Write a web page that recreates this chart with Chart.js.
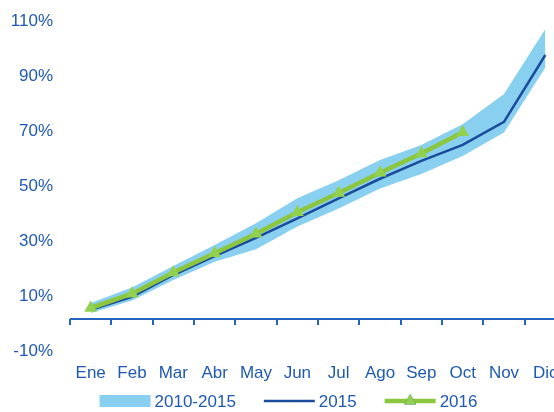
<!DOCTYPE html>
<html>
<head>
<meta charset="utf-8">
<script src="https://cdn.jsdelivr.net/npm/chart.js@4/dist/chart.umd.min.js"></script>
<style>
  html, body { margin: 0; padding: 0; background: #fff; overflow: hidden; }
  #wrap { width: 585px; height: 412px; }
</style>
</head>
<body>
<div id="wrap"><canvas id="c" width="585" height="412"></canvas></div>
<script>
// Cumulative share of the yearly total reached by each month (%)
const months = ['Ene', 'Feb', 'Mar', 'Abr', 'May', 'Jun', 'Jul', 'Ago', 'Sep', 'Oct', 'Nov', 'Dic'];
const rangeLow  = [2.2, 6.7, 14.2, 20.8, 25.4, 33.6, 40.2, 47.5, 52.7, 59.3, 67.8, 91.5];
const rangeHigh = [5.8, 11.5, 19.3, 26.9, 34.8, 43.9, 50.5, 57.8, 63.3, 70.8, 81.8, 105.5];
const values2015 = [3.3, 8.1, 16.0, 22.9, 29.5, 36.6, 43.9, 51.0, 57.5, 63.3, 71.7, 96.0];
const values2016 = [4.0, 9.2, 16.9, 23.9, 31.0, 38.8, 45.8, 53.2, 60.2, 67.9];
const seriesNames = ['2010-2015', '2015', '2016'];
const yMin = -10, yMax = 110, yStep = 20;

const TEXT = '#1F59B3';
const AXIS = '#2563BE';
const BAND = '#89D0F0';
const DARK = '#1B4C9C';
const GREEN_LINE = '#8CC63F';
const GREEN_MARK = '#92D050';
const FONT = { family: '"Liberation Sans", Arial, sans-serif', size: 17 };

// Category axis line crossing at 0%, with tick marks on the category boundaries
const zeroAxis = {
  id: 'zeroAxis',
  afterDatasetsDraw(chart) {
    const { ctx, scales: { x, y } } = chart;
    const y0 = y.getPixelForValue(0);
    const n = chart.data.labels.length;
    const step = n > 1 ? x.getPixelForValue(1) - x.getPixelForValue(0) : x.width;
    ctx.save();
    ctx.strokeStyle = AXIS;
    ctx.lineWidth = 2;
    ctx.beginPath();
    ctx.moveTo(x.left, y0);
    ctx.lineTo(x.right, y0);
    for (let i = 0; i <= n; i++) {
      const px = Math.round(x.getPixelForValue(0) - step / 2 + i * step);
      ctx.moveTo(px, y0);
      ctx.lineTo(px, y0 + 6);
    }
    ctx.stroke();
    ctx.restore();
  }
};

// Legend drawn under the plot: swatch, line, and line with triangle
const bottomLegend = {
  id: 'bottomLegend',
  afterDraw(chart) {
    const ctx = chart.ctx;
    ctx.save();
    ctx.font = FONT.size + 'px ' + FONT.family;
    ctx.textBaseline = 'middle';
    ctx.textAlign = 'left';
    const sw = 51, gapText = 4, gapItem = 28, cy = 401;
    const widths = seriesNames.map(n => sw + gapText + ctx.measureText(n).width);
    const total = widths.reduce((a, b) => a + b, 0) + gapItem * (widths.length - 1);
    let x = chart.width / 2 - 4 - total / 2;
    seriesNames.forEach((name, i) => {
      if (i === 0) {
        ctx.fillStyle = BAND;
        ctx.fillRect(x, cy - 6, sw, 12);
      } else if (i === 1) {
        ctx.strokeStyle = DARK;
        ctx.lineWidth = 2.5;
        ctx.beginPath(); ctx.moveTo(x, cy); ctx.lineTo(x + sw, cy); ctx.stroke();
      } else {
        ctx.strokeStyle = GREEN_LINE;
        ctx.lineWidth = 4.5;
        ctx.beginPath(); ctx.moveTo(x, cy); ctx.lineTo(x + sw, cy); ctx.stroke();
        Chart.helpers.drawPoint(ctx, { pointStyle: 'triangle', radius: 7, borderWidth: 0 }, x + sw / 2, cy);
        ctx.fillStyle = GREEN_MARK;
        ctx.fill();
      }
      ctx.fillStyle = TEXT;
      ctx.fillText(name, x + sw + gapText, cy + 1);
      x += widths[i] + gapItem;
    });
    ctx.restore();
  }
};

new Chart(document.getElementById('c'), {
  type: 'line',
  data: {
    labels: months,
    datasets: [
      { label: seriesNames[0] + ' min', data: rangeLow, borderWidth: 0, pointRadius: 0,
        fill: false, order: 4, tension: 0 },
      { label: seriesNames[0], data: rangeHigh, borderWidth: 0, pointRadius: 0,
        backgroundColor: BAND, fill: '-1', order: 3, tension: 0 },
      { label: seriesNames[1], data: values2015, borderColor: DARK, borderWidth: 2.5,
        pointRadius: 0, fill: false, order: 2, tension: 0 },
      { label: seriesNames[2], data: values2016, borderColor: GREEN_LINE, borderWidth: 4.5,
        pointStyle: 'triangle', pointRadius: 7.5, pointBorderWidth: 0,
        pointBackgroundColor: GREEN_MARK, fill: false, order: 1, tension: 0 }
    ]
  },
  options: {
    responsive: false,
    animation: false,
    events: [],
    layout: { padding: { left: 0, top: 16.5, right: 19, bottom: 29.5 } },
    plugins: { legend: { display: false }, tooltip: { enabled: false } },
    scales: {
      x: {
        position: 'bottom',
        offset: true,
        afterFit(scale) { scale.height = 36; },
        grid: { display: false, drawTicks: false },
        border: { display: false },
        ticks: { color: TEXT, font: FONT, padding: 17, maxRotation: 0, autoSkip: false }
      },
      y: {
        min: yMin, max: yMax,
        afterFit(scale) { scale.width = 70; },
        grid: { display: false, drawTicks: true, tickLength: 17 },
        border: { display: false },
        ticks: { stepSize: yStep, color: TEXT, font: FONT, padding: 0, labelOffset: 5,
                 callback: v => v + '%' }
      }
    }
  },
  plugins: [zeroAxis, bottomLegend]
});
</script>
</body>
</html>
